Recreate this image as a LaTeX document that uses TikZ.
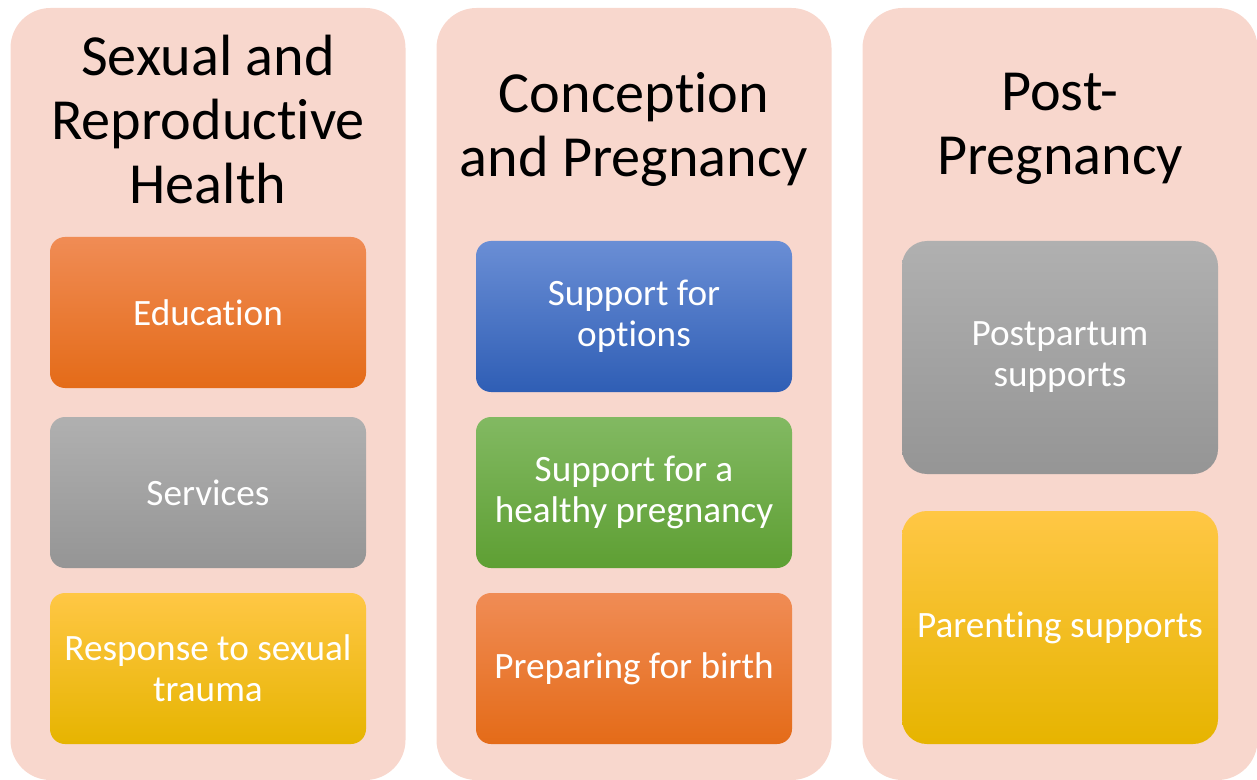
\documentclass[tikz,border=0pt]{standalone}
\usepackage{fontspec}
\setmainfont{Carlito}[RawFeature={-liga;-clig;-calt;-dlig}]
\usepackage{tikz}
\usetikzlibrary{positioning}
\definecolor{colpink}{HTML}{F8D7CD}
\definecolor{orgtop}{HTML}{F08C55}
\definecolor{orgmid}{HTML}{F57E2A}
\definecolor{orgbot}{HTML}{E46B18}
\definecolor{grytop}{HTML}{B0B0B0}
\definecolor{grymid}{HTML}{A5A5A5}
\definecolor{grybot}{HTML}{959595}
\definecolor{ylwtop}{HTML}{FFC745}
\definecolor{ylwmid}{HTML}{FFC400}
\definecolor{ylwbot}{HTML}{E6B400}
\definecolor{blutop}{HTML}{6A8ED5}
\definecolor{blumid}{HTML}{4373CF}
\definecolor{blubot}{HTML}{2F5EB5}
\definecolor{grntop}{HTML}{82B962}
\definecolor{grnmid}{HTML}{6FAD45}
\definecolor{grnbot}{HTML}{5E9F33}
\tikzset{colbox/.style={fill=colpink,rounded corners=20pt,minimum width=197.5pt,minimum height=386pt,inner sep=0pt},
         coltitle/.style={align=center,font=\fontsize{29.1}{32}\selectfont,text=black,inner sep=0pt},
         itembox/.style={rounded corners=7.5pt,minimum width=158pt,minimum height=75.5pt,align=center,
                          text=white,font=\fontsize{18.6}{20.5}\selectfont,inner sep=0pt},
         tallbox/.style={itembox,rounded corners=12.5pt,minimum height=116.5pt},
         orangebox/.style={top color=orgtop,middle color=orgmid,bottom color=orgbot},
         graybox/.style={top color=grytop,middle color=grymid,bottom color=grybot},
         yellowbox/.style={top color=ylwtop,middle color=ylwmid,bottom color=ylwbot},
         bluebox/.style={top color=blutop,middle color=blumid,bottom color=blubot},
         greenbox/.style={top color=grntop,middle color=grnmid,bottom color=grnbot}}

\begin{document}
\begin{tikzpicture}[x=0.5pt,y=-0.5pt]
\useasboundingbox (0,0) rectangle (1257,780);

\node[colbox] (sexual) at (208,394) {};
\node[colbox] (conception) at (634,394) {};
\node[colbox] (post) at (1060,394) {};

\node[coltitle] (sexualtitle) at (208,120) {Sexual and\\Reproductive\\Health};
\node[coltitle] (conceptiontitle) at (634,129) {Conception\\and Pregnancy};
\node[coltitle] (posttitle) at (1060,129) {Post-\\Pregnancy};

% first column
\node[itembox,orangebox] (education) at (208,312.5) {Education};
\node[itembox,graybox] (services) at (208,492.5) {Services};
\node[itembox,yellowbox] (trauma) at (208,668.5) {Response to sexual\\trauma};

% second column
\node[itembox,bluebox] (options) at (634,316.5) {Support for\\options};
\node[itembox,greenbox] (healthy) at (634,492.5) {Support for a\\healthy pregnancy};
\node[itembox,orangebox] (birth) at (634,668.5) {Preparing for birth};

% third column
\node[tallbox,graybox] (postpartum) at (1060,357.5) {Postpartum\\supports};
\node[tallbox,yellowbox] (parenting) at (1060,627.5) {Parenting supports};

\end{tikzpicture}
\end{document}
